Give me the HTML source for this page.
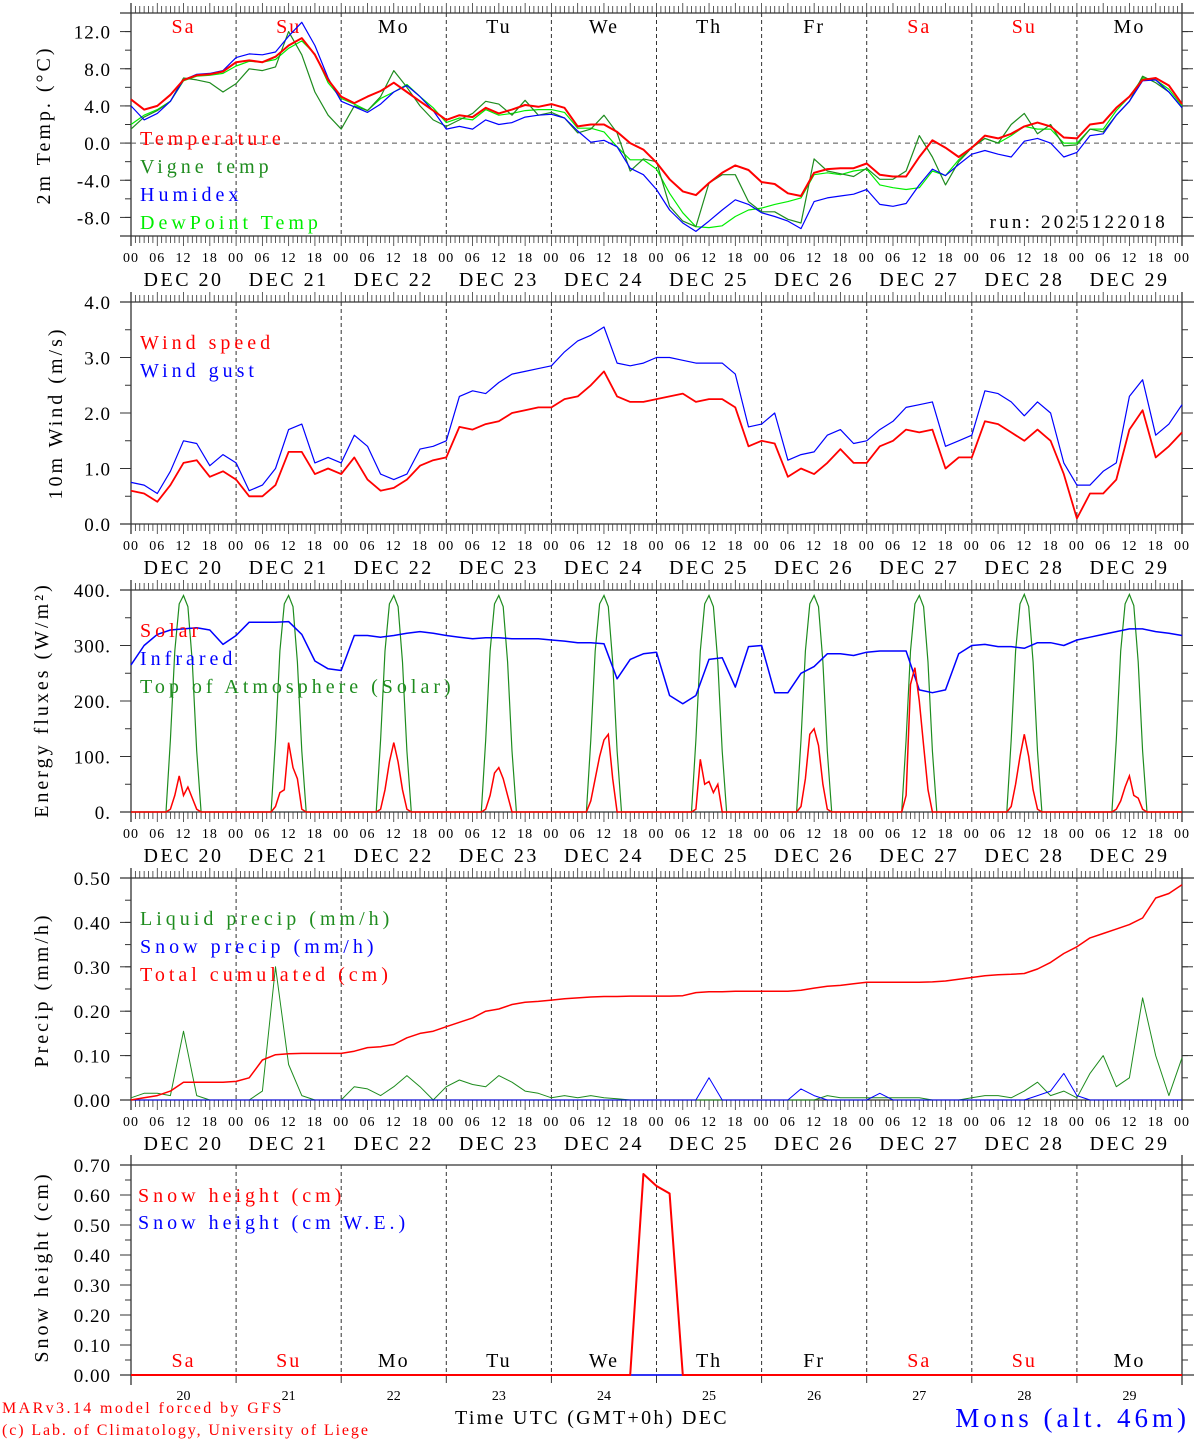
<!DOCTYPE html>
<html><head><meta charset="utf-8"><style>
html,body{margin:0;padding:0;background:#fff}
svg{display:block}
text{font-family:"Liberation Serif",serif}
</style></head><body>
<svg id="chart" width="1194" height="1440" viewBox="0 0 1194 1440" xmlns="http://www.w3.org/2000/svg"></svg>
<script>
// ---------- DATA (3-hourly, 81 points from DEC 20 00 UTC to DEC 30 00 UTC) ----------
const dayNumbers=["20","21","22","23","24","25","26","27","28","29"];
const dayNames=["Sa","Su","Mo","Tu","We","Th","Fr","Sa","Su","Mo"];
const weekend=[1,1,0,0,0,0,0,1,1,0];
const tempT=[4.7,3.6,4.0,5.2,6.8,7.3,7.4,7.7, 8.7,8.9,8.7,9.3,10.5,11.3,9.5,6.8, 5.0,4.3,5.0,5.6,6.5,5.5,4.5,3.5, 2.5,3.0,2.8,3.8,3.2,3.6,4.1,3.9, 4.2,3.8,1.8,2.0,2.0,1.2,0.0,-0.7, -2.1,-3.9,-5.2,-5.6,-4.3,-3.2,-2.4,-2.9, -4.2,-4.4,-5.4,-5.7,-3.2,-2.8,-2.7,-2.7, -2.2,-3.4,-3.6,-3.6,-1.5,0.3,-0.5,-1.5, -0.5,0.8,0.5,1.0,1.8,2.2,1.8,0.6, 0.5,2.0,2.2,3.8,5.0,6.8,7.0,6.2, 4.2];
const tempVigne=[1.5,2.8,3.5,4.5,7.0,6.8,6.5,5.5, 6.4,8.0,7.8,8.2,12.0,9.5,5.5,3.0, 1.5,4.0,3.5,5.0,7.8,6.0,4.0,2.5, 1.8,2.5,3.2,4.5,4.2,3.0,4.6,3.0, 3.3,2.7,1.1,1.5,3.0,1.1,-3.0,-1.7, -2.0,-6.8,-8.4,-9.0,-4.3,-3.4,-3.4,-6.3, -7.4,-7.4,-8.2,-8.6,-1.7,-3.0,-3.3,-3.6, -2.7,-3.9,-3.9,-3.0,0.8,-1.5,-4.5,-2.0, -0.5,0.5,0.0,2.0,3.2,1.0,2.0,-0.3, -0.2,1.5,1.2,3.0,4.5,7.2,6.5,5.5, 3.8];
const tempHumidex=[4.0,2.5,3.2,4.5,6.8,7.4,7.5,7.8, 9.2,9.6,9.5,9.8,11.5,13.0,10.5,7.0, 4.5,3.9,3.3,4.2,5.5,6.2,5.0,3.5, 1.5,1.8,1.5,2.5,2.0,2.2,2.8,3.0, 3.1,2.7,1.3,0.1,0.3,-0.4,-2.7,-3.4, -5.0,-7.2,-8.6,-9.5,-8.4,-7.2,-6.1,-6.6, -7.5,-7.9,-8.4,-9.2,-6.3,-5.9,-5.7,-5.5, -5.0,-6.6,-6.8,-6.5,-4.5,-2.8,-3.5,-2.3, -1.2,-0.8,-1.2,-1.5,0.2,0.5,0.0,-1.5, -1.0,0.8,1.0,3.0,4.5,6.7,6.8,5.5, 3.8];
const tempDew=[2.0,3.0,3.6,4.5,6.7,7.2,7.3,7.5, 8.3,8.8,8.7,9.0,10.2,11.0,9.6,6.5, 4.8,4.2,3.5,4.8,5.5,6.3,5.0,3.8, 2.2,2.7,2.5,3.6,3.0,3.2,3.5,3.6, 3.6,3.3,1.6,1.6,1.2,-0.4,-1.8,-1.8, -2.8,-5.4,-7.5,-9.0,-9.1,-8.9,-7.9,-7.2, -7.0,-6.6,-6.3,-5.9,-3.4,-3.2,-3.4,-3.0, -2.8,-4.5,-4.8,-5.0,-4.8,-3.0,-3.5,-1.8, -0.5,0.5,0.0,0.8,1.8,1.5,1.5,0.0, 0.0,1.5,1.5,3.5,5.0,7.0,6.8,5.8, 4.0];
const windSpeed=[0.6,0.55,0.4,0.7,1.1,1.15,0.85,0.95, 0.8,0.5,0.5,0.7,1.3,1.3,0.9,1.0, 0.9,1.2,0.8,0.6,0.65,0.8,1.05,1.15, 1.2,1.75,1.7,1.8,1.85,2.0,2.05,2.1, 2.1,2.25,2.3,2.5,2.75,2.3,2.2,2.2, 2.25,2.3,2.35,2.2,2.25,2.25,2.1,1.4, 1.5,1.45,0.85,1.0,0.9,1.1,1.35,1.1, 1.1,1.4,1.5,1.7,1.65,1.7,1.0,1.2, 1.2,1.85,1.8,1.65,1.5,1.7,1.5,0.9, 0.1,0.55,0.55,0.8,1.7,2.05,1.2,1.4, 1.65];
const windGust=[0.75,0.7,0.55,0.95,1.5,1.45,1.05,1.25, 1.1,0.6,0.7,1.0,1.7,1.8,1.1,1.2, 1.1,1.6,1.4,0.9,0.8,0.9,1.35,1.4, 1.5,2.3,2.4,2.35,2.55,2.7,2.75,2.8, 2.85,3.1,3.3,3.4,3.55,2.9,2.85,2.9, 3.0,3.0,2.95,2.9,2.9,2.9,2.7,1.75, 1.8,2.0,1.15,1.25,1.3,1.6,1.7,1.45, 1.5,1.7,1.85,2.1,2.15,2.2,1.4,1.5, 1.6,2.4,2.35,2.2,1.95,2.2,2.0,1.1, 0.7,0.7,0.95,1.1,2.3,2.6,1.6,1.8, 2.15];
const infrared=[265,300,320,328,330,332,328,302, 318,342,342,342,343,320,272,258, 255,318,318,315,318,322,325,322, 318,315,312,314,314,312,312,312, 310,308,305,305,303,240,275,285, 288,210,195,210,275,278,225,298, 300,215,215,250,262,285,285,282, 288,290,290,290,220,215,220,285, 300,302,298,298,295,305,305,300, 310,315,320,325,330,330,325,322, 318];
// hourly daytime values, hours 08..16 of each day
const toaDaily=[[0,130,290,375,390,370,270,110,0],[0,130,290,375,390,370,270,110,0],[0,130,290,375,390,370,270,110,0],[0,130,290,375,390,370,270,110,0],[0,130,290,375,390,370,270,110,0],[0,130,290,375,390,370,270,110,0],[0,130,290,375,390,370,270,110,0],[0,130,290,375,390,370,270,110,0],[0,130,290,375,392,370,270,110,0],[0,130,290,375,392,372,270,110,0]];
const solarDaily=[[0,5,30,65,30,45,25,5,0],[0,10,35,40,125,80,60,5,0],[0,5,40,90,125,90,40,5,0],[0,5,30,70,80,60,30,0,0],[0,20,60,100,130,140,60,0,0],[0,5,95,50,55,35,50,0,0],[0,10,60,140,150,120,50,5,0],[0,30,230,260,200,120,40,0,0],[0,10,50,100,140,100,40,5,0],[0,5,20,45,65,30,25,5,0]];
const liquidPrecip=[0.005,0.015,0.015,0.01,0.155,0.01,0,0, 0,0,0.02,0.3,0.08,0.01,0,0, 0,0.03,0.025,0.01,0.03,0.055,0.03,0, 0.03,0.045,0.035,0.03,0.055,0.04,0.02,0.015, 0.005,0.01,0.005,0.01,0.005,0.003,0,0, 0,0,0,0,0,0,0,0, 0,0,0,0,0,0.01,0.005,0.005, 0.005,0.005,0.005,0.005,0.005,0,0,0, 0.005,0.01,0.01,0.005,0.02,0.04,0.01,0.02, 0.005,0.06,0.1,0.03,0.05,0.23,0.1,0.01, 0.095];
const snowPrecip=[0,0,0,0,0,0,0,0, 0,0,0,0,0,0,0,0, 0,0,0,0,0,0,0,0, 0,0,0,0,0,0,0,0, 0,0,0,0,0,0,0,0, 0,0,0,0,0.05,0,0,0, 0,0,0,0.025,0.01,0,0,0, 0,0.015,0,0,0,0,0,0, 0,0,0,0,0,0.01,0.02,0.06, 0.01,0,0,0,0,0,0,0, 0];
const totalCum=[0,0.005,0.01,0.02,0.04,0.04,0.04,0.04, 0.042,0.05,0.09,0.102,0.104,0.105,0.105,0.105, 0.105,0.11,0.118,0.12,0.125,0.14,0.15,0.155, 0.165,0.175,0.185,0.2,0.205,0.215,0.22,0.222, 0.225,0.228,0.23,0.232,0.233,0.233,0.234,0.234, 0.234,0.234,0.235,0.242,0.244,0.244,0.245,0.245, 0.245,0.245,0.245,0.247,0.252,0.256,0.258,0.262, 0.265,0.265,0.265,0.265,0.265,0.266,0.268,0.272, 0.276,0.28,0.282,0.283,0.285,0.295,0.31,0.33, 0.345,0.365,0.375,0.385,0.395,0.41,0.455,0.465, 0.485];
const snowHeight=[0,0,0,0,0,0,0,0, 0,0,0,0,0,0,0,0, 0,0,0,0,0,0,0,0, 0,0,0,0,0,0,0,0, 0,0,0,0,0,0,0,0.67, 0.63,0.605,0,0,0,0,0,0, 0,0,0,0,0,0,0,0, 0,0,0,0,0,0,0,0, 0,0,0,0,0,0,0,0, 0,0,0,0,0,0,0,0, 0];
const snowHeightWE=new Array(81).fill(0);

// ---------- LAYOUT ----------
const NS="http://www.w3.org/2000/svg";
const svg=document.getElementById("chart");
const X0=131, X1=1182, DAYW=(X1-X0)/10;
function xOf(h){return X0+h*DAYW/24;}
const P1={top:13,bot:236,min:-10,max:14};
const P2={top:302,bot:524,min:0,max:4};
const P3={top:590,bot:812,min:0,max:400};
const P4={top:878,bot:1100,min:0,max:0.5};
const P5={top:1165,bot:1375,min:0,max:0.7};
function yOf(p,v){return p.bot-(v-p.min)/(p.max-p.min)*(p.bot-p.top);}
function el(tag,attrs,parent){const e=document.createElementNS(NS,tag);for(const k in attrs)e.setAttribute(k,attrs[k]);(parent||svg).appendChild(e);return e;}
function txt(s,x,y,size,fill,anchor,parent){const t=el("text",{x:x,y:y,"font-size":size,fill:fill||"#000","text-anchor":anchor||"start"},parent);t.textContent=s;return t;}
function series(p,vals,color,w,name){
  const pts=vals.map((v,i)=>xOf(i*3).toFixed(1)+","+yOf(p,v).toFixed(1)).join(" ");
  const l=el("polyline",{points:pts,fill:"none",stroke:color,"stroke-width":w,"stroke-linejoin":"round"});
  
  
}
function dailySeries(p,days,color,w,name){
  const pts=[];
  pts.push(xOf(0)+","+yOf(p,0));
  days.forEach((d,di)=>{d.forEach((v,k)=>{pts.push(xOf(di*24+8+k).toFixed(1)+","+yOf(p,v).toFixed(1));});});
  pts.push(xOf(240)+","+yOf(p,0));
  const l=el("polyline",{points:pts.join(" "),fill:"none",stroke:color,"stroke-width":w});
  
  
}
function frame(p,ticks,fmt,minor,hourTicks,name){
  const g=el("g",{});
  
  
  for(let d=1;d<10;d++){el("line",{x1:xOf(d*24),x2:xOf(d*24),y1:p.top,y2:p.bot,stroke:"#333","stroke-width":1,"stroke-dasharray":"4,3"},g);}
  el("line",{x1:X0-11,x2:1194,y1:p.top,y2:p.top,stroke:"#333","stroke-width":1.3},g);
  el("line",{x1:X0-11,x2:1194,y1:p.bot,y2:p.bot,stroke:"#333","stroke-width":1.3},g);
  el("line",{x1:X0,x2:X0,y1:p.top-10,y2:p.bot+10,stroke:"#333","stroke-width":1.3},g);
  el("line",{x1:X1,x2:X1,y1:p.top-10,y2:p.bot+10,stroke:"#333","stroke-width":1.3},g);
  ticks.forEach(v=>{const y=yOf(p,v);el("line",{x1:X0-11,x2:X0,y1:y,y2:y,stroke:"#333"},g);el("line",{x1:X1,x2:X1+11,y1:y,y2:y,stroke:"#333"},g);
    const t=txt(fmt(v),111,y+7,19,"#000","end",g);t.setAttribute("letter-spacing","1");});
  for(let v=p.min;v<=p.max+1e-9;v+=minor){const y=yOf(p,v);el("line",{x1:X0-6,x2:X0,y1:y,y2:y,stroke:"#333"},g);el("line",{x1:X1,x2:X1+6,y1:y,y2:y,stroke:"#333"},g);}
  if(hourTicks){
    for(let h=0;h<=240;h++){const x=xOf(h);const L=(h%6==0)?10:7;
      el("line",{x1:x,x2:x,y1:p.top-L,y2:p.top,stroke:"#333","stroke-width":0.8},g);
      el("line",{x1:x,x2:x,y1:p.bot,y2:p.bot+L,stroke:"#333","stroke-width":0.8},g);}
    for(let h=0;h<=240;h+=6){const t=txt(String(h%24).padStart(2,"0"),xOf(h),p.bot+26,14,"#000","middle",g);
      t.setAttribute("letter-spacing","1");
      }
    dayNumbers.forEach((d,i)=>{const t=txt("DEC "+d,xOf(i*24+12),p.bot+50,20,"#000","middle",g);t.setAttribute("letter-spacing","2.5");
      });
  }
}
function ytitle(s,x,y,name){const t=txt(s,x,y,20,"#000","middle");t.setAttribute("letter-spacing","3");t.setAttribute("transform","rotate(-90 "+x+" "+y+")");return t;}
function legend(s,x,y,color,name){const t=txt(s,x,y,20,color);t.setAttribute("letter-spacing","4");}

// ---------- PANEL 1: temperature ----------
frame(P1,[-8,-4,0,4,8,12],v=>v.toFixed(1),2,true,"temperature-panel");
el("line",{x1:X0,x2:X1,y1:yOf(P1,0),y2:yOf(P1,0),stroke:"#555","stroke-dasharray":"5,4"});
dayNames.forEach((n,i)=>{const t=txt(n,xOf(i*24+12),33,20,weekend[i]?"#ff0000":"#000","middle");t.setAttribute("letter-spacing","2");});
series(P1,tempDew,"#00ee00",1.2,"dewpoint-line");
series(P1,tempVigne,"#1e8c1e",1.2,"vigne-temp-line");
series(P1,tempHumidex,"#0000ff",1.2,"humidex-line");
series(P1,tempT,"#ff0000",2,"temperature-line");
ytitle("2m Temp. (\u00B0C)",50,125,"y-axis-title-temp");
legend("Temperature",140,145,"#ff0000","legend-temperature");
legend("Vigne temp",140,173,"#1e8c1e","legend-vigne-temp");
legend("Humidex",140,201,"#0000ff","legend-humidex");
legend("DewPoint Temp",140,229,"#00ee00","legend-dewpoint");
{const t=txt("run: 2025122018",1168,228,19,"#000","end");t.setAttribute("letter-spacing","3.2");}

// ---------- PANEL 2: wind ----------
frame(P2,[0,1,2,3,4],v=>v.toFixed(1),0.5,true,"wind-panel");
series(P2,windGust,"#0000ff",1.2,"wind-gust-line");
series(P2,windSpeed,"#ff0000",1.8,"wind-speed-line");
ytitle("10m Wind (m/s)",62,413,"y-axis-title-wind");
legend("Wind speed",140,349,"#ff0000","legend-wind-speed");
legend("Wind gust",140,377,"#0000ff","legend-wind-gust");

// ---------- PANEL 3: energy ----------
frame(P3,[0,100,200,300,400],v=>v+".",50,true,"energy-panel");
dailySeries(P3,toaDaily,"#1e8c1e",1.2,"toa-solar-line");
series(P3,infrared,"#0000ff",1.5,"infrared-line");
dailySeries(P3,solarDaily,"#ff0000",1.5,"solar-line");
ytitle("Energy fluxes (W/m\u00B2)",48,700,"y-axis-title-energy");
legend("Solar",140,637,"#ff0000","legend-solar");
legend("Infrared",140,665,"#0000ff","legend-infrared");
legend("Top of Atmosphere (Solar)",140,693,"#1e8c1e","legend-toa");

// ---------- PANEL 4: precip ----------
frame(P4,[0,0.1,0.2,0.3,0.4,0.5],v=>v.toFixed(2),0.05,true,"precip-panel");
series(P4,liquidPrecip,"#1e8c1e",1,"liquid-precip-line");
series(P4,snowPrecip,"#0000ff",1,"snow-precip-line");
series(P4,totalCum,"#ff0000",1.5,"total-cumulated-line");
ytitle("Precip (mm/h)",48,990,"y-axis-title-precip");
legend("Liquid precip (mm/h)",140,925,"#1e8c1e","legend-liquid-precip");
legend("Snow precip (mm/h)",140,953,"#0000ff","legend-snow-precip");
legend("Total cumulated (cm)",140,981,"#ff0000","legend-total-cumulated");

// ---------- PANEL 5: snow height ----------
frame(P5,[0,0.1,0.2,0.3,0.4,0.5,0.6,0.7],v=>v.toFixed(2),0.05,false,"snow-panel");
for(let d=0;d<=10;d++){el("line",{x1:xOf(d*24),x2:xOf(d*24),y1:P5.bot,y2:P5.bot+8,stroke:"#333"});}
dayNames.forEach((n,i)=>{const t=txt(n,xOf(i*24+12),1367,20,weekend[i]?"#ff0000":"#000","middle");t.setAttribute("letter-spacing","2");});
dayNumbers.forEach((n,i)=>{const t=txt(n,xOf(i*24+12),1400,14,"#000","middle");});
series(P5,snowHeightWE,"#0000ff",1.5,"snow-height-we-line");
series(P5,snowHeight,"#ff0000",2,"snow-height-line");
ytitle("Snow height (cm)",48,1267,"y-axis-title-snow");
legend("Snow height (cm)",138,1202,"#ff0000","legend-snow-height");
legend("Snow height (cm W.E.)",138,1229,"#0000ff","legend-snow-height-we");

// ---------- footer ----------
{let t=txt("Time UTC (GMT+0h) DEC",455,1424,20,"#000");t.setAttribute("letter-spacing","2.3");
 t=txt("MARv3.14 model forced by GFS",2,1413,16,"#ff0000");t.setAttribute("letter-spacing","2.4");
 t=txt("(c) Lab. of Climatology, University of Liege",2,1435,16,"#ff0000");t.setAttribute("letter-spacing","1.9");
 t=txt("Mons (alt. 46m)",1190,1427,27,"#0000ff","end");t.setAttribute("letter-spacing","4");}
</script>
</body></html>
